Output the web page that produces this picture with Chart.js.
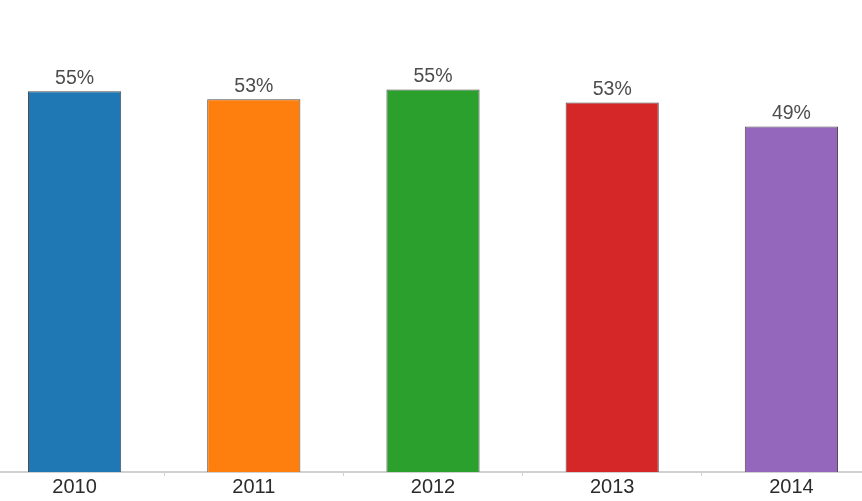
<!DOCTYPE html>
<html>
<head>
<meta charset="utf-8">
<script src="https://cdn.jsdelivr.net/npm/chart.js@4/dist/chart.umd.min.js"></script>
<style>
  html, body { margin: 0; padding: 0; background: #fff; overflow: hidden; }
  #wrap { position: absolute; left: -15px; top: 0; width: 896px; height: 501px; }
</style>
</head>
<body>
<div id="wrap"><canvas id="chart"></canvas></div>
<script>
const years = ['2010', '2011', '2012', '2013', '2014'];
const shares = [54.7, 53.4, 55.0, 52.9, 49.0];
const barColors = ['#1f77b4', '#ff7f0e', '#2ca02c', '#d62728', '#9467bd'];
const axisMin = -7;
const axisMax = 69.5;

// percentage label above each bar
const barLabels = {
  id: 'barLabels',
  afterDatasetsDraw(chart) {
    const ctx = chart.ctx;
    const meta = chart.getDatasetMeta(0);
    ctx.save();
    ctx.font = '19.5px "Liberation Sans", Arial, sans-serif';
    ctx.fillStyle = '#4d4d4d';
    ctx.textAlign = 'center';
    ctx.textBaseline = 'alphabetic';
    meta.data.forEach((bar, i) => {
      ctx.fillText(Math.round(shares[i]) + '%', bar.x, bar.y - 7);
    });
    ctx.restore();
  }
};

new Chart(document.getElementById('chart'), {
  type: 'bar',
  data: {
    labels: years,
    datasets: [{
      data: shares,
      base: axisMin,
      backgroundColor: barColors,
      borderColor: '#4d4d4d',
      borderWidth: 1,
      barPercentage: 0.52,
      categoryPercentage: 1,
    }],
  },
  options: {
    responsive: true, maintainAspectRatio: false,
    animation: false,
    layout: { padding: 0 },
    plugins: { legend: { display: false }, tooltip: { enabled: false } },
    scales: {
      x: {
        grid: { offset: true, drawOnChartArea: false, drawTicks: true, tickLength: 4, color: '#d0d0d0', lineWidth: 1 },
        border: { display: true, color: '#d0d0d0', width: 2 },
        ticks: { color: '#2b2b2b', padding: -1, font: { family: '"Liberation Sans", Arial, sans-serif', size: 20 } },
        afterFit(scale) { scale.height = 29; },
      },
      y: { display: false, min: axisMin, max: axisMax },
    },
  },
  plugins: [barLabels],
});
</script>
</body>
</html>
